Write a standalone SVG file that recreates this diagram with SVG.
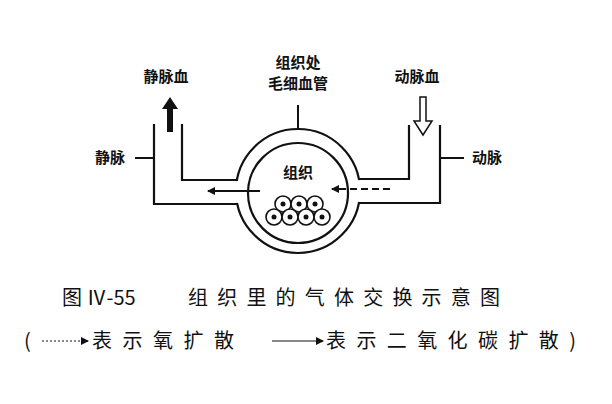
<svg xmlns="http://www.w3.org/2000/svg" width="612" height="404" viewBox="0 0 612 404">
<style>
.l{fill:none;stroke:#111;stroke-width:2.2}
.t{font-family:"Noto Sans CJK SC","Liberation Sans",sans-serif;fill:#111;font-size:15px;font-weight:bold;text-anchor:middle}
.c{font-family:"Noto Sans CJK SC","Liberation Serif",serif;fill:#111;font-size:20px}
.cell{fill:#fff;stroke:#111;stroke-width:1.6}
</style>
<defs>
<marker id="ah" markerWidth="8" markerHeight="8" refX="7" refY="4" orient="auto" markerUnits="userSpaceOnUse" viewBox="0 0 8 8"><path d="M0,0L8,4L0,8z" fill="#111"/></marker>
</defs>
<rect width="612" height="404" fill="#fff"/>
<g id="capillary">
<path class="l" d="M154,124V204H243M182,124V180H244"/>
<path class="l" d="M440,125V203H353M409,125V179H352"/>
<circle cx="298" cy="191" r="62" fill="#fff" stroke="#111" stroke-width="2.2"/>
<rect x="230" y="181.1" width="20" height="21.8" fill="#fff"/>
<rect x="346" y="180.1" width="20" height="21.8" fill="#fff"/>
<circle cx="298" cy="193" r="50" fill="#fff" stroke="#111" stroke-width="2.2"/>
</g>
<g id="tissue">
<text class="t" x="298" y="178" font-size="16">组织</text>
<g class="cell">
<circle cx="283" cy="204" r="8"/><circle cx="299" cy="204" r="8"/><circle cx="315" cy="204" r="8"/>
<circle cx="274" cy="217" r="8"/><circle cx="290" cy="217" r="8"/><circle cx="306" cy="217" r="8"/><circle cx="322" cy="217" r="8"/>
</g>
<g fill="#111">
<circle cx="283" cy="204" r="2.5"/><circle cx="299" cy="204" r="2.5"/><circle cx="315" cy="204" r="2.5"/>
<circle cx="274" cy="217" r="2.5"/><circle cx="290" cy="217" r="2.5"/><circle cx="306" cy="217" r="2.5"/><circle cx="322" cy="217" r="2.5"/>
</g>
</g>
<g id="connectors">
<line x1="298" y1="105" x2="298" y2="129" stroke="#111" stroke-width="2"/>
<line x1="135" y1="158" x2="154" y2="158" stroke="#111" stroke-width="2"/>
<line x1="440" y1="158" x2="464" y2="158" stroke="#111" stroke-width="2"/>
<line x1="260" y1="191" x2="208" y2="191" stroke="#111" stroke-width="2" marker-end="url(#ah)"/>
<line x1="390" y1="189" x2="332" y2="189" stroke="#111" stroke-width="2" stroke-dasharray="7,4" marker-end="url(#ah)"/>
<path d="M167,132V109H162L170,97L178,109H173V132Z" fill="#111"/>
<path d="M420,97V121H414L423,135L432,121H426V97Z" fill="#fff" stroke="#111" stroke-width="1.5"/>
<line x1="42" y1="341" x2="88" y2="341" stroke="#111" stroke-width="1.2" stroke-dasharray="2,2" marker-end="url(#ah)"/>
<line x1="272" y1="341" x2="323" y2="341" stroke="#111" stroke-width="1.2" marker-end="url(#ah)"/>
</g>
<g id="labels">
<text class="t" x="298" y="68">组织处</text>
<text class="t" x="298" y="89">毛细血管</text>
<text class="t" x="166" y="82">静脉血</text>
<text class="t" x="417" y="82">动脉血</text>
<text class="t" x="110" y="163">静脉</text>
<text class="t" x="487" y="163">动脉</text>
</g>
<g id="caption">
<text class="c" x="62" y="305">图 Ⅳ-55</text>
<text class="c" x="188" y="305" textLength="312" lengthAdjust="spacing">组织里的气体交换示意图</text>
<text class="c" x="24" y="348">(</text>
<text class="c" x="92" y="348" textLength="142" lengthAdjust="spacing">表示氧扩散</text>
<text class="c" x="326" y="348" textLength="250" lengthAdjust="spacing">表示二氧化碳扩散)</text>
</g>
</svg>
